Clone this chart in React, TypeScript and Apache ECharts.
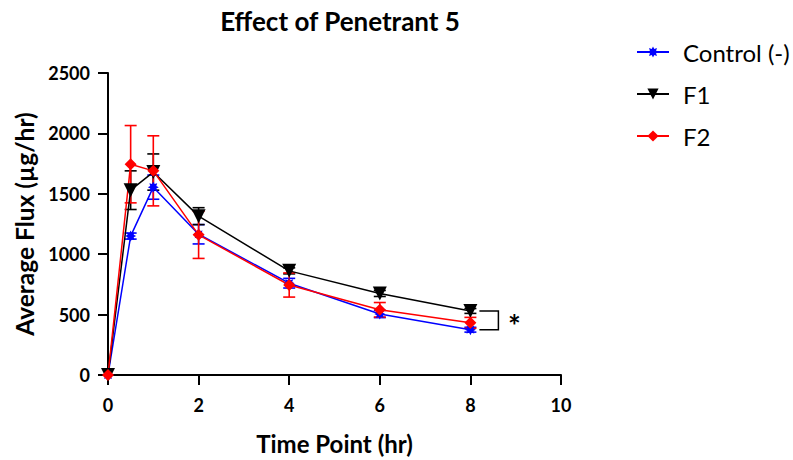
import React, { useEffect, useRef } from "react";
import * as echarts from "echarts";

const timePoints = [0, 0.5, 1, 2, 4, 6, 8];
const controlMean = [0, 1150, 1555, 1165, 760, 505, 375];
const controlErr = [0, 25, 100, 80, 40, 30, 20];
const f1Mean = [0, 1530, 1680, 1315, 862, 675, 530];
const f1Err = [0, 160, 150, 70, 25, 25, 20];
const f2Mean = [0, 1745, 1690, 1160, 745, 540, 432];
const f2Err = [0, 320, 290, 195, 100, 60, 45];
const seriesNames = ["Control (-)", "F1", "F2"];
const seriesColors = ["#0000ff", "#000000", "#ff0000"];
const bracketTop = 530;
const bracketBottom = 375;
const bracketX = 8;

function burstPath(): string {
  const pts: string[] = [];
  const n = 8;
  for (let i = 0; i < n * 2; i++) {
    const r = i % 2 === 0 ? 10 : 6;
    const a = (Math.PI * i) / n;
    pts.push(`${(r * Math.cos(a)).toFixed(2)},${(r * Math.sin(a)).toFixed(2)}`);
  }
  return "path://M" + pts.join("L") + "Z";
}

const FONT = "Lato";

export default function App() {
  const ref = useRef<HTMLDivElement>(null);
  useEffect(() => {
    if (!ref.current) return;
    const chart = echarts.init(ref.current, null, { renderer: "svg" });
    const means = [controlMean, f1Mean, f2Mean];
    const errs = [controlErr, f1Err, f2Err];
    const symbols = [burstPath(), "triangle", "diamond"];
    const symbolSizes = [11, 14, 12];
    const symbolRotate = [0, 180, 0];

    const series: any[] = [];
    means.forEach((m, si) => {
      series.push({
        type: "custom",
        name: seriesNames[si] + " err",
        clip: false,
        z: 2,
        data: timePoints.map((t, i) => [t, m[i] - errs[si][i], m[i] + errs[si][i]]),
        renderItem: (params: any, api: any) => {
          if (api.value(2) - api.value(1) <= 0) return null;
          const lo = api.coord([api.value(0), api.value(1)]);
          const hi = api.coord([api.value(0), api.value(2)]);
          const hw = 6;
          const style = { stroke: seriesColors[si], lineWidth: 1.6 };
          return {
            type: "group",
            children: [
              { type: "line", shape: { x1: lo[0], y1: lo[1], x2: hi[0], y2: hi[1] }, style },
              { type: "line", shape: { x1: lo[0] - hw, y1: lo[1], x2: lo[0] + hw, y2: lo[1] }, style },
              { type: "line", shape: { x1: hi[0] - hw, y1: hi[1], x2: hi[0] + hw, y2: hi[1] }, style },
            ],
          };
        },
      });
      series.push({
        type: "line",
        name: seriesNames[si],
        clip: false,
        z: 3,
        data: timePoints.map((t, i) => [t, m[i]]),
        symbol: symbols[si],
        symbolSize: symbolSizes[si],
        symbolRotate: symbolRotate[si],
        showAllSymbol: true,
        lineStyle: { color: seriesColors[si], width: 1.5 },
        itemStyle: { color: seriesColors[si], borderWidth: 0 },
        emphasis: { disabled: true },
      });
    });

    series.push({
      type: "custom",
      name: "bracket",
      clip: false,
      z: 4,
      data: [[bracketX, bracketTop, bracketBottom]],
      renderItem: (params: any, api: any) => {
        const top = api.coord([api.value(0), api.value(1)]);
        const bot = api.coord([api.value(0), api.value(2)]);
        const x0 = top[0] + 9;
        const x1 = top[0] + 28;
        const style = { stroke: "#000", lineWidth: 1.5, fill: "none" };
        return {
          type: "group",
          children: [
            {
              type: "polyline",
              shape: { points: [[x0, top[1]], [x1, top[1]], [x1, bot[1]], [x0, bot[1]]] },
              style,
            },
            {
              type: "text",
              x: x1 + 16,
              y: (top[1] + bot[1]) / 2 + 5,
              style: {
                text: "*",
                fontSize: 30,
                fontWeight: "bold",
                fontFamily: FONT,
                fill: "#000",
                align: "center",
                verticalAlign: "middle",
              },
            },
          ],
        };
      },
    });

    chart.setOption({
      animation: false,
      title: {
        text: "Effect of Penetrant 5",
        left: 335,
        top: 3,
        textAlign: "center",
        textStyle: { fontFamily: FONT, fontSize: 26, fontWeight: "bold", color: "#000" },
      },
      legend: {
        data: seriesNames,
        orient: "vertical",
        left: 631,
        top: 35,
        itemWidth: 32,
        itemHeight: 14,
        itemGap: 18,
        textStyle: { fontFamily: FONT, fontSize: 24, lineHeight: 24, color: "#000", padding: [0, 0, 0, 9] },
        selectedMode: false,
      },
      grid: { left: 108, right: 232, top: 73, bottom: 85 },
      xAxis: {
        type: "value",
        min: 0,
        max: 10,
        interval: 2,
        name: "Time Point (hr)",
        nameLocation: "middle",
        nameGap: 56,
        nameTextStyle: { fontFamily: FONT, fontSize: 24, fontWeight: "bold", color: "#000" },
        axisLine: { show: true, onZero: false, lineStyle: { color: "#000", width: 2 } },
        axisTick: { show: true, length: 10, lineStyle: { color: "#000", width: 2 } },
        axisLabel: {
          fontFamily: FONT, fontSize: 18, fontWeight: "bold", color: "#000", margin: 21,
          formatter: (v: number) => String(v),
        },
        splitLine: { show: false },
      },
      yAxis: {
        type: "value",
        min: 0,
        max: 2500,
        interval: 500,
        name: "Average Flux (µg/hr)",
        nameLocation: "middle",
        nameGap: 68,
        nameTextStyle: { fontFamily: FONT, fontSize: 24.5, fontWeight: "bold", color: "#000" },
        axisLine: { show: true, lineStyle: { color: "#000", width: 2 } },
        axisTick: { show: true, length: 10, lineStyle: { color: "#000", width: 2 } },
        axisLabel: {
          fontFamily: FONT, fontSize: 18, fontWeight: "bold", color: "#000", margin: 18,
          formatter: (v: number) => String(v),
        },
        splitLine: { show: false },
      },
      series,
    });
    return () => chart.dispose();
  }, []);
  return <div ref={ref} style={{ position: "absolute", left: 0, top: 0, width: 793, height: 460 }} />;
}
